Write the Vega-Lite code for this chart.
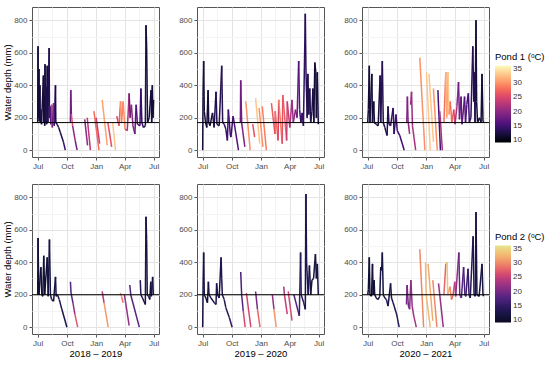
{
"$schema":"https://vega.github.io/schema/vega-lite/v6.json",
"padding":{"left":2,"top":6,"right":0,"bottom":0},
"config":{"font":"Liberation Sans","view":{"stroke":"#555555","strokeWidth":1},
"axis":{"domain":false,"tickSize":3,"tickWidth":1,"tickCount":20,"labelFontSize":8,"labelColor":"#4d4d4d","labelPadding":2,"labelOverlap":false,"labelFlush":false,"titleFontSize":9.5,"titleFontWeight":"normal","titleColor":"#000000","titlePadding":1},
"legend":{"orient":"none","gradientLength":77,"gradientThickness":16,"titleFontSize":9.5,"titleFontWeight":"normal","titleColor":"#000000","labelFontSize":8,"labelColor":"#333333","titlePadding":4,"labelOffset":3,"gradientStrokeWidth":0}},
"data":{"values":[
{"pond":1,"yr":2018,"g":1,"d":"2018-07-01","v":170,"t":12},
{"pond":1,"yr":2018,"g":1,"d":"2018-07-02","v":640,"t":12},
{"pond":1,"yr":2018,"g":1,"d":"2018-07-03","v":200,"t":12},
{"pond":1,"yr":2018,"g":1,"d":"2018-07-05","v":500,"t":12},
{"pond":1,"yr":2018,"g":1,"d":"2018-07-06","v":180,"t":12},
{"pond":1,"yr":2018,"g":1,"d":"2018-07-08","v":400,"t":12},
{"pond":1,"yr":2018,"g":1,"d":"2018-07-09","v":170,"t":12},
{"pond":1,"yr":2018,"g":1,"d":"2018-07-11","v":250,"t":13},
{"pond":1,"yr":2018,"g":1,"d":"2018-07-13","v":160,"t":12},
{"pond":1,"yr":2018,"g":1,"d":"2018-07-19","v":460,"t":12},
{"pond":1,"yr":2018,"g":1,"d":"2018-07-20","v":170,"t":12},
{"pond":1,"yr":2018,"g":1,"d":"2018-07-22","v":340,"t":13},
{"pond":1,"yr":2018,"g":1,"d":"2018-07-23","v":150,"t":12},
{"pond":1,"yr":2018,"g":1,"d":"2018-07-24","v":530,"t":12},
{"pond":1,"yr":2018,"g":1,"d":"2018-07-26","v":170,"t":13},
{"pond":1,"yr":2018,"g":1,"d":"2018-07-28","v":390,"t":13},
{"pond":1,"yr":2018,"g":1,"d":"2018-07-29","v":160,"t":13},
{"pond":1,"yr":2018,"g":1,"d":"2018-07-31","v":520,"t":12},
{"pond":1,"yr":2018,"g":1,"d":"2018-08-02","v":170,"t":13},
{"pond":1,"yr":2018,"g":1,"d":"2018-08-06","v":630,"t":13},
{"pond":1,"yr":2018,"g":1,"d":"2018-08-07","v":200,"t":15},
{"pond":1,"yr":2018,"g":1,"d":"2018-08-09","v":270,"t":17},
{"pond":1,"yr":2018,"g":1,"d":"2018-08-11","v":160,"t":16},
{"pond":1,"yr":2018,"g":1,"d":"2018-08-14","v":280,"t":24},
{"pond":1,"yr":2018,"g":1,"d":"2018-08-16","v":140,"t":18},
{"pond":1,"yr":2018,"g":1,"d":"2018-08-20","v":290,"t":20},
{"pond":1,"yr":2018,"g":1,"d":"2018-08-22","v":150,"t":15},
{"pond":1,"yr":2018,"g":1,"d":"2018-08-26","v":400,"t":12},
{"pond":1,"yr":2018,"g":1,"d":"2018-08-27","v":170,"t":12},
{"pond":1,"yr":2018,"g":1,"d":"2018-08-31","v":160,"t":13},
{"pond":1,"yr":2018,"g":1,"d":"2018-09-05","v":140,"t":13},
{"pond":1,"yr":2018,"g":1,"d":"2018-09-10","v":110,"t":13},
{"pond":1,"yr":2018,"g":1,"d":"2018-09-20","v":50,"t":14},
{"pond":1,"yr":2018,"g":1,"d":"2018-09-26","v":0,"t":14},
{"pond":1,"yr":2018,"g":2,"d":"2018-10-12","v":170,"t":18},
{"pond":1,"yr":2018,"g":2,"d":"2018-10-13","v":370,"t":18},
{"pond":1,"yr":2018,"g":2,"d":"2018-10-15","v":220,"t":26},
{"pond":1,"yr":2018,"g":2,"d":"2018-10-19","v":150,"t":20},
{"pond":1,"yr":2018,"g":2,"d":"2018-10-27","v":60,"t":18},
{"pond":1,"yr":2018,"g":2,"d":"2018-11-02","v":0,"t":18},
{"pond":1,"yr":2018,"g":3,"d":"2018-11-26","v":190,"t":20},
{"pond":1,"yr":2018,"g":3,"d":"2018-12-05","v":30,"t":21},
{"pond":1,"yr":2018,"g":4,"d":"2018-12-04","v":200,"t":23},
{"pond":1,"yr":2018,"g":4,"d":"2018-12-14","v":0,"t":22},
{"pond":1,"yr":2018,"g":5,"d":"2018-12-25","v":240,"t":28},
{"pond":1,"yr":2018,"g":5,"d":"2019-01-10","v":0,"t":29},
{"pond":1,"yr":2018,"g":6,"d":"2019-01-01","v":200,"t":24},
{"pond":1,"yr":2018,"g":6,"d":"2019-01-12","v":40,"t":25},
{"pond":1,"yr":2018,"g":7,"d":"2019-01-20","v":310,"t":31},
{"pond":1,"yr":2018,"g":7,"d":"2019-02-05","v":30,"t":31},
{"pond":1,"yr":2018,"g":8,"d":"2019-02-07","v":170,"t":26},
{"pond":1,"yr":2018,"g":8,"d":"2019-02-19","v":20,"t":27},
{"pond":1,"yr":2018,"g":9,"d":"2019-02-22","v":170,"t":33},
{"pond":1,"yr":2018,"g":9,"d":"2019-03-03","v":0,"t":33},
{"pond":1,"yr":2018,"g":10,"d":"2019-03-07","v":210,"t":25},
{"pond":1,"yr":2018,"g":10,"d":"2019-03-14","v":150,"t":27},
{"pond":1,"yr":2018,"g":10,"d":"2019-03-19","v":300,"t":30},
{"pond":1,"yr":2018,"g":10,"d":"2019-03-22","v":170,"t":29},
{"pond":1,"yr":2018,"g":10,"d":"2019-03-27","v":300,"t":30},
{"pond":1,"yr":2018,"g":10,"d":"2019-04-02","v":130,"t":25},
{"pond":1,"yr":2018,"g":10,"d":"2019-04-09","v":120,"t":22},
{"pond":1,"yr":2018,"g":10,"d":"2019-04-15","v":350,"t":18},
{"pond":1,"yr":2018,"g":10,"d":"2019-04-18","v":200,"t":18},
{"pond":1,"yr":2018,"g":10,"d":"2019-04-22","v":280,"t":20},
{"pond":1,"yr":2018,"g":10,"d":"2019-04-27","v":150,"t":19},
{"pond":1,"yr":2018,"g":10,"d":"2019-05-03","v":100,"t":17},
{"pond":1,"yr":2018,"g":10,"d":"2019-05-07","v":280,"t":16},
{"pond":1,"yr":2018,"g":10,"d":"2019-05-11","v":160,"t":16},
{"pond":1,"yr":2018,"g":10,"d":"2019-05-19","v":150,"t":15},
{"pond":1,"yr":2018,"g":10,"d":"2019-05-22","v":380,"t":14},
{"pond":1,"yr":2018,"g":10,"d":"2019-05-25","v":170,"t":14},
{"pond":1,"yr":2018,"g":10,"d":"2019-05-30","v":140,"t":13},
{"pond":1,"yr":2018,"g":10,"d":"2019-06-05","v":150,"t":13},
{"pond":1,"yr":2018,"g":10,"d":"2019-06-07","v":770,"t":12},
{"pond":1,"yr":2018,"g":10,"d":"2019-06-09","v":640,"t":12},
{"pond":1,"yr":2018,"g":10,"d":"2019-06-12","v":170,"t":12},
{"pond":1,"yr":2018,"g":10,"d":"2019-06-17","v":200,"t":12},
{"pond":1,"yr":2018,"g":10,"d":"2019-06-23","v":370,"t":12},
{"pond":1,"yr":2018,"g":10,"d":"2019-06-25","v":170,"t":12},
{"pond":1,"yr":2018,"g":10,"d":"2019-06-27","v":400,"t":12},
{"pond":1,"yr":2018,"g":10,"d":"2019-06-29","v":200,"t":12},
{"pond":1,"yr":2018,"g":10,"d":"2019-07-01","v":310,"t":12},
{"pond":1,"yr":2019,"g":1,"d":"2019-07-01","v":0,"t":12},
{"pond":1,"yr":2019,"g":1,"d":"2019-07-02","v":330,"t":12},
{"pond":1,"yr":2019,"g":1,"d":"2019-07-04","v":550,"t":12},
{"pond":1,"yr":2019,"g":1,"d":"2019-07-06","v":240,"t":12},
{"pond":1,"yr":2019,"g":1,"d":"2019-07-10","v":170,"t":12},
{"pond":1,"yr":2019,"g":1,"d":"2019-07-14","v":140,"t":12},
{"pond":1,"yr":2019,"g":1,"d":"2019-07-18","v":370,"t":12},
{"pond":1,"yr":2019,"g":1,"d":"2019-07-20","v":170,"t":12},
{"pond":1,"yr":2019,"g":1,"d":"2019-07-24","v":150,"t":12},
{"pond":1,"yr":2019,"g":1,"d":"2019-08-01","v":230,"t":13},
{"pond":1,"yr":2019,"g":1,"d":"2019-08-06","v":140,"t":13},
{"pond":1,"yr":2019,"g":1,"d":"2019-08-12","v":360,"t":13},
{"pond":1,"yr":2019,"g":1,"d":"2019-08-15","v":160,"t":13},
{"pond":1,"yr":2019,"g":1,"d":"2019-08-22","v":150,"t":13},
{"pond":1,"yr":2019,"g":1,"d":"2019-08-30","v":520,"t":13},
{"pond":1,"yr":2019,"g":1,"d":"2019-09-02","v":170,"t":14},
{"pond":1,"yr":2019,"g":1,"d":"2019-09-07","v":160,"t":14},
{"pond":1,"yr":2019,"g":1,"d":"2019-09-12","v":130,"t":14},
{"pond":1,"yr":2019,"g":1,"d":"2019-09-17","v":60,"t":15},
{"pond":1,"yr":2019,"g":1,"d":"2019-09-20","v":250,"t":15},
{"pond":1,"yr":2019,"g":1,"d":"2019-09-26","v":100,"t":15},
{"pond":1,"yr":2019,"g":1,"d":"2019-09-28","v":80,"t":15},
{"pond":1,"yr":2019,"g":1,"d":"2019-10-05","v":210,"t":16},
{"pond":1,"yr":2019,"g":1,"d":"2019-10-22","v":0,"t":16},
{"pond":1,"yr":2019,"g":2,"d":"2019-10-28","v":170,"t":18},
{"pond":1,"yr":2019,"g":2,"d":"2019-10-29","v":430,"t":18},
{"pond":1,"yr":2019,"g":2,"d":"2019-11-01","v":170,"t":19},
{"pond":1,"yr":2019,"g":2,"d":"2019-11-11","v":20,"t":19},
{"pond":1,"yr":2019,"g":3,"d":"2019-11-14","v":300,"t":30},
{"pond":1,"yr":2019,"g":3,"d":"2019-11-28","v":0,"t":30},
{"pond":1,"yr":2019,"g":4,"d":"2019-12-06","v":160,"t":26},
{"pond":1,"yr":2019,"g":4,"d":"2019-12-12","v":80,"t":26},
{"pond":1,"yr":2019,"g":5,"d":"2019-12-15","v":320,"t":33},
{"pond":1,"yr":2019,"g":5,"d":"2019-12-28","v":40,"t":33},
{"pond":1,"yr":2019,"g":6,"d":"2019-12-26","v":260,"t":30},
{"pond":1,"yr":2019,"g":6,"d":"2020-01-07","v":20,"t":30},
{"pond":1,"yr":2019,"g":7,"d":"2020-01-05","v":270,"t":29},
{"pond":1,"yr":2019,"g":7,"d":"2020-01-18","v":0,"t":29},
{"pond":1,"yr":2019,"g":8,"d":"2020-02-03","v":290,"t":27},
{"pond":1,"yr":2019,"g":8,"d":"2020-02-14","v":100,"t":26},
{"pond":1,"yr":2019,"g":8,"d":"2020-02-15","v":240,"t":28},
{"pond":1,"yr":2019,"g":8,"d":"2020-02-24","v":60,"t":25},
{"pond":1,"yr":2019,"g":8,"d":"2020-02-26","v":310,"t":29},
{"pond":1,"yr":2019,"g":8,"d":"2020-03-08","v":40,"t":26},
{"pond":1,"yr":2019,"g":8,"d":"2020-03-10","v":340,"t":27},
{"pond":1,"yr":2019,"g":8,"d":"2020-03-22","v":60,"t":24},
{"pond":1,"yr":2019,"g":8,"d":"2020-03-24","v":300,"t":24},
{"pond":1,"yr":2019,"g":8,"d":"2020-04-01","v":140,"t":22},
{"pond":1,"yr":2019,"g":8,"d":"2020-04-08","v":310,"t":21},
{"pond":1,"yr":2019,"g":8,"d":"2020-04-12","v":170,"t":20},
{"pond":1,"yr":2019,"g":8,"d":"2020-04-19","v":250,"t":19},
{"pond":1,"yr":2019,"g":8,"d":"2020-04-24","v":200,"t":18},
{"pond":1,"yr":2019,"g":8,"d":"2020-04-29","v":550,"t":16},
{"pond":1,"yr":2019,"g":8,"d":"2020-05-02","v":250,"t":15},
{"pond":1,"yr":2019,"g":8,"d":"2020-05-06","v":170,"t":14},
{"pond":1,"yr":2019,"g":8,"d":"2020-05-10","v":230,"t":14},
{"pond":1,"yr":2019,"g":8,"d":"2020-05-14","v":150,"t":14},
{"pond":1,"yr":2019,"g":8,"d":"2020-05-20","v":840,"t":13},
{"pond":1,"yr":2019,"g":8,"d":"2020-05-22","v":490,"t":13},
{"pond":1,"yr":2019,"g":8,"d":"2020-05-26","v":200,"t":13},
{"pond":1,"yr":2019,"g":8,"d":"2020-05-28","v":470,"t":13},
{"pond":1,"yr":2019,"g":8,"d":"2020-05-31","v":220,"t":13},
{"pond":1,"yr":2019,"g":8,"d":"2020-06-03","v":380,"t":13},
{"pond":1,"yr":2019,"g":8,"d":"2020-06-06","v":170,"t":13},
{"pond":1,"yr":2019,"g":8,"d":"2020-06-10","v":240,"t":13},
{"pond":1,"yr":2019,"g":8,"d":"2020-06-13","v":380,"t":12},
{"pond":1,"yr":2019,"g":8,"d":"2020-06-16","v":170,"t":12},
{"pond":1,"yr":2019,"g":8,"d":"2020-06-19","v":540,"t":12},
{"pond":1,"yr":2019,"g":8,"d":"2020-06-22","v":480,"t":12},
{"pond":1,"yr":2019,"g":8,"d":"2020-06-24","v":200,"t":12},
{"pond":1,"yr":2019,"g":8,"d":"2020-06-27","v":480,"t":12},
{"pond":1,"yr":2019,"g":8,"d":"2020-06-30","v":160,"t":12},
{"pond":1,"yr":2020,"g":1,"d":"2020-07-01","v":170,"t":12},
{"pond":1,"yr":2020,"g":1,"d":"2020-07-03","v":250,"t":12},
{"pond":1,"yr":2020,"g":1,"d":"2020-07-06","v":520,"t":12},
{"pond":1,"yr":2020,"g":1,"d":"2020-07-08","v":170,"t":12},
{"pond":1,"yr":2020,"g":1,"d":"2020-07-14","v":470,"t":12},
{"pond":1,"yr":2020,"g":1,"d":"2020-07-16","v":170,"t":12},
{"pond":1,"yr":2020,"g":1,"d":"2020-07-20","v":300,"t":12},
{"pond":1,"yr":2020,"g":1,"d":"2020-07-22","v":170,"t":12},
{"pond":1,"yr":2020,"g":1,"d":"2020-07-28","v":160,"t":12},
{"pond":1,"yr":2020,"g":1,"d":"2020-08-03","v":150,"t":12},
{"pond":1,"yr":2020,"g":1,"d":"2020-08-09","v":460,"t":13},
{"pond":1,"yr":2020,"g":1,"d":"2020-08-11","v":170,"t":13},
{"pond":1,"yr":2020,"g":1,"d":"2020-08-16","v":550,"t":13},
{"pond":1,"yr":2020,"g":1,"d":"2020-08-19","v":170,"t":13},
{"pond":1,"yr":2020,"g":1,"d":"2020-08-24","v":140,"t":13},
{"pond":1,"yr":2020,"g":1,"d":"2020-08-31","v":90,"t":13},
{"pond":1,"yr":2020,"g":1,"d":"2020-09-03","v":270,"t":13},
{"pond":1,"yr":2020,"g":1,"d":"2020-09-06","v":160,"t":14},
{"pond":1,"yr":2020,"g":1,"d":"2020-09-11","v":150,"t":14},
{"pond":1,"yr":2020,"g":1,"d":"2020-09-19","v":260,"t":14},
{"pond":1,"yr":2020,"g":1,"d":"2020-09-22","v":100,"t":14},
{"pond":1,"yr":2020,"g":1,"d":"2020-09-28","v":220,"t":15},
{"pond":1,"yr":2020,"g":1,"d":"2020-10-02","v":120,"t":15},
{"pond":1,"yr":2020,"g":1,"d":"2020-10-10","v":90,"t":15},
{"pond":1,"yr":2020,"g":1,"d":"2020-10-24","v":0,"t":15},
{"pond":1,"yr":2020,"g":2,"d":"2020-11-01","v":170,"t":19},
{"pond":1,"yr":2020,"g":2,"d":"2020-11-03","v":330,"t":19},
{"pond":1,"yr":2020,"g":2,"d":"2020-11-05","v":180,"t":20},
{"pond":1,"yr":2020,"g":2,"d":"2020-11-10","v":100,"t":20},
{"pond":1,"yr":2020,"g":3,"d":"2020-11-13","v":280,"t":21},
{"pond":1,"yr":2020,"g":3,"d":"2020-11-16","v":360,"t":21},
{"pond":1,"yr":2020,"g":3,"d":"2020-11-19","v":150,"t":22},
{"pond":1,"yr":2020,"g":3,"d":"2020-11-29","v":0,"t":22},
{"pond":1,"yr":2020,"g":4,"d":"2020-12-12","v":570,"t":30},
{"pond":1,"yr":2020,"g":4,"d":"2020-12-28","v":0,"t":30},
{"pond":1,"yr":2020,"g":5,"d":"2021-01-02","v":480,"t":33},
{"pond":1,"yr":2020,"g":5,"d":"2021-01-14","v":0,"t":33},
{"pond":1,"yr":2020,"g":6,"d":"2021-01-10","v":470,"t":33},
{"pond":1,"yr":2020,"g":6,"d":"2021-01-24","v":50,"t":32},
{"pond":1,"yr":2020,"g":7,"d":"2021-01-24","v":380,"t":30},
{"pond":1,"yr":2020,"g":7,"d":"2021-02-05","v":0,"t":30},
{"pond":1,"yr":2020,"g":8,"d":"2021-02-07","v":370,"t":15},
{"pond":1,"yr":2020,"g":8,"d":"2021-02-15","v":0,"t":15},
{"pond":1,"yr":2020,"g":9,"d":"2021-02-13","v":240,"t":22},
{"pond":1,"yr":2020,"g":9,"d":"2021-02-21","v":0,"t":22},
{"pond":1,"yr":2020,"g":10,"d":"2021-02-26","v":170,"t":28},
{"pond":1,"yr":2020,"g":10,"d":"2021-03-04","v":480,"t":32},
{"pond":1,"yr":2020,"g":10,"d":"2021-03-07","v":200,"t":31},
{"pond":1,"yr":2020,"g":10,"d":"2021-03-11","v":480,"t":33},
{"pond":1,"yr":2020,"g":10,"d":"2021-03-14","v":220,"t":30},
{"pond":1,"yr":2020,"g":10,"d":"2021-03-18","v":300,"t":28},
{"pond":1,"yr":2020,"g":10,"d":"2021-03-23","v":170,"t":27},
{"pond":1,"yr":2020,"g":10,"d":"2021-03-29","v":250,"t":25},
{"pond":1,"yr":2020,"g":10,"d":"2021-04-02","v":160,"t":22},
{"pond":1,"yr":2020,"g":10,"d":"2021-04-08","v":270,"t":20},
{"pond":1,"yr":2020,"g":10,"d":"2021-04-13","v":420,"t":18},
{"pond":1,"yr":2020,"g":10,"d":"2021-04-16","v":190,"t":18},
{"pond":1,"yr":2020,"g":10,"d":"2021-04-21","v":330,"t":17},
{"pond":1,"yr":2020,"g":10,"d":"2021-04-24","v":160,"t":17},
{"pond":1,"yr":2020,"g":10,"d":"2021-04-29","v":260,"t":17},
{"pond":1,"yr":2020,"g":10,"d":"2021-05-02","v":330,"t":16},
{"pond":1,"yr":2020,"g":10,"d":"2021-05-05","v":170,"t":16},
{"pond":1,"yr":2020,"g":10,"d":"2021-05-09","v":280,"t":15},
{"pond":1,"yr":2020,"g":10,"d":"2021-05-14","v":350,"t":15},
{"pond":1,"yr":2020,"g":10,"d":"2021-05-17","v":170,"t":14},
{"pond":1,"yr":2020,"g":10,"d":"2021-05-22","v":200,"t":14},
{"pond":1,"yr":2020,"g":10,"d":"2021-05-28","v":640,"t":13},
{"pond":1,"yr":2020,"g":10,"d":"2021-05-31","v":300,"t":13},
{"pond":1,"yr":2020,"g":10,"d":"2021-06-02","v":480,"t":13},
{"pond":1,"yr":2020,"g":10,"d":"2021-06-04","v":170,"t":13},
{"pond":1,"yr":2020,"g":10,"d":"2021-06-07","v":800,"t":12},
{"pond":1,"yr":2020,"g":10,"d":"2021-06-09","v":300,"t":12},
{"pond":1,"yr":2020,"g":10,"d":"2021-06-12","v":170,"t":12},
{"pond":1,"yr":2020,"g":10,"d":"2021-06-18","v":200,"t":12},
{"pond":1,"yr":2020,"g":10,"d":"2021-06-23","v":170,"t":12},
{"pond":1,"yr":2020,"g":10,"d":"2021-06-26","v":470,"t":12},
{"pond":1,"yr":2020,"g":10,"d":"2021-06-29","v":180,"t":12},
{"pond":1,"yr":2020,"g":10,"d":"2021-07-01","v":170,"t":12},
{"pond":2,"yr":2018,"g":1,"d":"2018-07-01","v":200,"t":11},
{"pond":2,"yr":2018,"g":1,"d":"2018-07-02","v":550,"t":11},
{"pond":2,"yr":2018,"g":1,"d":"2018-07-03","v":400,"t":11},
{"pond":2,"yr":2018,"g":1,"d":"2018-07-05","v":200,"t":11},
{"pond":2,"yr":2018,"g":1,"d":"2018-07-11","v":370,"t":11},
{"pond":2,"yr":2018,"g":1,"d":"2018-07-14","v":200,"t":11},
{"pond":2,"yr":2018,"g":1,"d":"2018-07-17","v":190,"t":11},
{"pond":2,"yr":2018,"g":1,"d":"2018-07-20","v":440,"t":11},
{"pond":2,"yr":2018,"g":1,"d":"2018-07-23","v":200,"t":11},
{"pond":2,"yr":2018,"g":1,"d":"2018-07-31","v":430,"t":12},
{"pond":2,"yr":2018,"g":1,"d":"2018-08-03","v":190,"t":12},
{"pond":2,"yr":2018,"g":1,"d":"2018-08-07","v":540,"t":12},
{"pond":2,"yr":2018,"g":1,"d":"2018-08-10","v":200,"t":12},
{"pond":2,"yr":2018,"g":1,"d":"2018-08-14","v":170,"t":12},
{"pond":2,"yr":2018,"g":1,"d":"2018-08-20","v":160,"t":12},
{"pond":2,"yr":2018,"g":1,"d":"2018-08-26","v":310,"t":12},
{"pond":2,"yr":2018,"g":1,"d":"2018-08-28","v":190,"t":13},
{"pond":2,"yr":2018,"g":1,"d":"2018-09-01","v":200,"t":13},
{"pond":2,"yr":2018,"g":1,"d":"2018-09-07","v":170,"t":13},
{"pond":2,"yr":2018,"g":1,"d":"2018-09-15","v":110,"t":13},
{"pond":2,"yr":2018,"g":1,"d":"2018-10-01","v":0,"t":13},
{"pond":2,"yr":2018,"g":2,"d":"2018-10-12","v":280,"t":18},
{"pond":2,"yr":2018,"g":2,"d":"2018-10-14","v":210,"t":18},
{"pond":2,"yr":2018,"g":2,"d":"2018-10-20","v":150,"t":22},
{"pond":2,"yr":2018,"g":2,"d":"2018-10-26","v":80,"t":27},
{"pond":2,"yr":2018,"g":2,"d":"2018-11-04","v":0,"t":27},
{"pond":2,"yr":2018,"g":3,"d":"2019-01-20","v":220,"t":24},
{"pond":2,"yr":2018,"g":3,"d":"2019-01-26","v":150,"t":31},
{"pond":2,"yr":2018,"g":3,"d":"2019-02-08","v":0,"t":32},
{"pond":2,"yr":2018,"g":4,"d":"2019-03-18","v":210,"t":30},
{"pond":2,"yr":2018,"g":4,"d":"2019-03-22","v":190,"t":29},
{"pond":2,"yr":2018,"g":4,"d":"2019-03-27","v":150,"t":28},
{"pond":2,"yr":2018,"g":5,"d":"2019-03-31","v":200,"t":22},
{"pond":2,"yr":2018,"g":5,"d":"2019-04-15","v":10,"t":18},
{"pond":2,"yr":2018,"g":6,"d":"2019-04-17","v":260,"t":18},
{"pond":2,"yr":2018,"g":6,"d":"2019-04-20","v":200,"t":18},
{"pond":2,"yr":2018,"g":6,"d":"2019-05-17","v":0,"t":16},
{"pond":2,"yr":2018,"g":7,"d":"2019-05-20","v":290,"t":14},
{"pond":2,"yr":2018,"g":7,"d":"2019-05-22","v":200,"t":13},
{"pond":2,"yr":2018,"g":7,"d":"2019-05-27","v":180,"t":13},
{"pond":2,"yr":2018,"g":7,"d":"2019-06-05","v":140,"t":13},
{"pond":2,"yr":2018,"g":7,"d":"2019-06-07","v":680,"t":12},
{"pond":2,"yr":2018,"g":7,"d":"2019-06-09","v":540,"t":12},
{"pond":2,"yr":2018,"g":7,"d":"2019-06-11","v":200,"t":12},
{"pond":2,"yr":2018,"g":7,"d":"2019-06-15","v":190,"t":12},
{"pond":2,"yr":2018,"g":7,"d":"2019-06-19","v":170,"t":12},
{"pond":2,"yr":2018,"g":7,"d":"2019-06-22","v":280,"t":12},
{"pond":2,"yr":2018,"g":7,"d":"2019-06-24","v":190,"t":12},
{"pond":2,"yr":2018,"g":7,"d":"2019-06-28","v":310,"t":12},
{"pond":2,"yr":2018,"g":7,"d":"2019-06-30","v":200,"t":12},
{"pond":2,"yr":2019,"g":1,"d":"2019-07-01","v":0,"t":12},
{"pond":2,"yr":2019,"g":1,"d":"2019-07-02","v":230,"t":12},
{"pond":2,"yr":2019,"g":1,"d":"2019-07-04","v":460,"t":12},
{"pond":2,"yr":2019,"g":1,"d":"2019-07-06","v":200,"t":12},
{"pond":2,"yr":2019,"g":1,"d":"2019-07-11","v":180,"t":12},
{"pond":2,"yr":2019,"g":1,"d":"2019-07-16","v":150,"t":12},
{"pond":2,"yr":2019,"g":1,"d":"2019-07-19","v":280,"t":12},
{"pond":2,"yr":2019,"g":1,"d":"2019-07-21","v":200,"t":12},
{"pond":2,"yr":2019,"g":1,"d":"2019-07-27","v":180,"t":12},
{"pond":2,"yr":2019,"g":1,"d":"2019-08-07","v":150,"t":13},
{"pond":2,"yr":2019,"g":1,"d":"2019-08-12","v":140,"t":13},
{"pond":2,"yr":2019,"g":1,"d":"2019-08-14","v":270,"t":13},
{"pond":2,"yr":2019,"g":1,"d":"2019-08-17","v":200,"t":13},
{"pond":2,"yr":2019,"g":1,"d":"2019-08-22","v":180,"t":13},
{"pond":2,"yr":2019,"g":1,"d":"2019-08-28","v":430,"t":13},
{"pond":2,"yr":2019,"g":1,"d":"2019-08-30","v":300,"t":13},
{"pond":2,"yr":2019,"g":1,"d":"2019-09-01","v":200,"t":14},
{"pond":2,"yr":2019,"g":1,"d":"2019-09-07","v":170,"t":14},
{"pond":2,"yr":2019,"g":1,"d":"2019-09-12","v":120,"t":14},
{"pond":2,"yr":2019,"g":1,"d":"2019-09-23","v":60,"t":15},
{"pond":2,"yr":2019,"g":1,"d":"2019-10-02","v":0,"t":15},
{"pond":2,"yr":2019,"g":2,"d":"2019-10-29","v":340,"t":17},
{"pond":2,"yr":2019,"g":2,"d":"2019-11-01","v":200,"t":18},
{"pond":2,"yr":2019,"g":2,"d":"2019-11-06","v":100,"t":26},
{"pond":2,"yr":2019,"g":2,"d":"2019-11-12","v":0,"t":26},
{"pond":2,"yr":2019,"g":3,"d":"2019-11-16","v":210,"t":26},
{"pond":2,"yr":2019,"g":3,"d":"2019-11-30","v":0,"t":28},
{"pond":2,"yr":2019,"g":4,"d":"2019-12-15","v":220,"t":20},
{"pond":2,"yr":2019,"g":4,"d":"2019-12-21","v":110,"t":28},
{"pond":2,"yr":2019,"g":4,"d":"2019-12-29","v":0,"t":28},
{"pond":2,"yr":2019,"g":5,"d":"2020-02-06","v":200,"t":22},
{"pond":2,"yr":2019,"g":5,"d":"2020-02-11","v":110,"t":31},
{"pond":2,"yr":2019,"g":5,"d":"2020-02-18","v":0,"t":31},
{"pond":2,"yr":2019,"g":6,"d":"2020-03-13","v":250,"t":23},
{"pond":2,"yr":2019,"g":6,"d":"2020-03-15","v":200,"t":25},
{"pond":2,"yr":2019,"g":6,"d":"2020-03-24","v":80,"t":28},
{"pond":2,"yr":2019,"g":7,"d":"2020-03-27","v":220,"t":26},
{"pond":2,"yr":2019,"g":7,"d":"2020-04-08","v":40,"t":24},
{"pond":2,"yr":2019,"g":8,"d":"2020-04-14","v":200,"t":18},
{"pond":2,"yr":2019,"g":8,"d":"2020-05-01","v":70,"t":16},
{"pond":2,"yr":2019,"g":8,"d":"2020-05-05","v":460,"t":14},
{"pond":2,"yr":2019,"g":8,"d":"2020-05-07","v":200,"t":14},
{"pond":2,"yr":2019,"g":8,"d":"2020-05-15","v":150,"t":13},
{"pond":2,"yr":2019,"g":8,"d":"2020-05-20","v":110,"t":13},
{"pond":2,"yr":2019,"g":8,"d":"2020-05-22","v":820,"t":13},
{"pond":2,"yr":2019,"g":8,"d":"2020-05-24","v":400,"t":13},
{"pond":2,"yr":2019,"g":8,"d":"2020-05-29","v":200,"t":13},
{"pond":2,"yr":2019,"g":8,"d":"2020-06-02","v":380,"t":12},
{"pond":2,"yr":2019,"g":8,"d":"2020-06-06","v":200,"t":12},
{"pond":2,"yr":2019,"g":8,"d":"2020-06-10","v":290,"t":12},
{"pond":2,"yr":2019,"g":8,"d":"2020-06-15","v":300,"t":12},
{"pond":2,"yr":2019,"g":8,"d":"2020-06-21","v":450,"t":12},
{"pond":2,"yr":2019,"g":8,"d":"2020-06-24","v":300,"t":12},
{"pond":2,"yr":2019,"g":8,"d":"2020-06-27","v":390,"t":12},
{"pond":2,"yr":2019,"g":8,"d":"2020-06-30","v":200,"t":12},
{"pond":2,"yr":2020,"g":1,"d":"2020-07-01","v":200,"t":11},
{"pond":2,"yr":2020,"g":1,"d":"2020-07-03","v":230,"t":11},
{"pond":2,"yr":2020,"g":1,"d":"2020-07-06","v":430,"t":11},
{"pond":2,"yr":2020,"g":1,"d":"2020-07-08","v":200,"t":11},
{"pond":2,"yr":2020,"g":1,"d":"2020-07-13","v":190,"t":11},
{"pond":2,"yr":2020,"g":1,"d":"2020-07-16","v":390,"t":11},
{"pond":2,"yr":2020,"g":1,"d":"2020-07-18","v":200,"t":11},
{"pond":2,"yr":2020,"g":1,"d":"2020-07-21","v":290,"t":11},
{"pond":2,"yr":2020,"g":1,"d":"2020-07-23","v":200,"t":11},
{"pond":2,"yr":2020,"g":1,"d":"2020-07-28","v":180,"t":12},
{"pond":2,"yr":2020,"g":1,"d":"2020-08-02","v":170,"t":12},
{"pond":2,"yr":2020,"g":1,"d":"2020-08-08","v":190,"t":12},
{"pond":2,"yr":2020,"g":1,"d":"2020-08-11","v":370,"t":12},
{"pond":2,"yr":2020,"g":1,"d":"2020-08-14","v":350,"t":12},
{"pond":2,"yr":2020,"g":1,"d":"2020-08-16","v":460,"t":12},
{"pond":2,"yr":2020,"g":1,"d":"2020-08-19","v":200,"t":12},
{"pond":2,"yr":2020,"g":1,"d":"2020-08-24","v":180,"t":12},
{"pond":2,"yr":2020,"g":1,"d":"2020-08-29","v":170,"t":13},
{"pond":2,"yr":2020,"g":1,"d":"2020-09-03","v":130,"t":13},
{"pond":2,"yr":2020,"g":1,"d":"2020-09-11","v":270,"t":13},
{"pond":2,"yr":2020,"g":1,"d":"2020-09-14","v":180,"t":13},
{"pond":2,"yr":2020,"g":1,"d":"2020-09-19","v":150,"t":14},
{"pond":2,"yr":2020,"g":1,"d":"2020-09-30","v":80,"t":14},
{"pond":2,"yr":2020,"g":1,"d":"2020-10-08","v":0,"t":14},
{"pond":2,"yr":2020,"g":2,"d":"2020-10-31","v":140,"t":20},
{"pond":2,"yr":2020,"g":2,"d":"2020-11-02","v":260,"t":20},
{"pond":2,"yr":2020,"g":2,"d":"2020-11-06","v":130,"t":21},
{"pond":2,"yr":2020,"g":2,"d":"2020-11-10","v":110,"t":21},
{"pond":2,"yr":2020,"g":2,"d":"2020-11-14","v":290,"t":22},
{"pond":2,"yr":2020,"g":2,"d":"2020-11-18","v":130,"t":22},
{"pond":2,"yr":2020,"g":2,"d":"2020-11-23","v":70,"t":23},
{"pond":2,"yr":2020,"g":2,"d":"2020-12-01","v":0,"t":23},
{"pond":2,"yr":2020,"g":3,"d":"2020-12-12","v":480,"t":30},
{"pond":2,"yr":2020,"g":3,"d":"2020-12-24","v":0,"t":31},
{"pond":2,"yr":2020,"g":4,"d":"2020-12-30","v":400,"t":33},
{"pond":2,"yr":2020,"g":4,"d":"2021-01-01","v":200,"t":33},
{"pond":2,"yr":2020,"g":4,"d":"2021-01-14","v":0,"t":33},
{"pond":2,"yr":2020,"g":5,"d":"2021-01-07","v":390,"t":32},
{"pond":2,"yr":2020,"g":5,"d":"2021-01-22","v":40,"t":31},
{"pond":2,"yr":2020,"g":6,"d":"2021-01-22","v":290,"t":30},
{"pond":2,"yr":2020,"g":6,"d":"2021-02-04","v":0,"t":30},
{"pond":2,"yr":2020,"g":7,"d":"2021-02-09","v":270,"t":22},
{"pond":2,"yr":2020,"g":7,"d":"2021-02-24","v":0,"t":22},
{"pond":2,"yr":2020,"g":8,"d":"2021-02-26","v":200,"t":28},
{"pond":2,"yr":2020,"g":8,"d":"2021-03-04","v":390,"t":33},
{"pond":2,"yr":2020,"g":8,"d":"2021-03-08","v":400,"t":34},
{"pond":2,"yr":2020,"g":8,"d":"2021-03-10","v":200,"t":32},
{"pond":2,"yr":2020,"g":8,"d":"2021-03-17","v":250,"t":30},
{"pond":2,"yr":2020,"g":8,"d":"2021-03-22","v":170,"t":28},
{"pond":2,"yr":2020,"g":8,"d":"2021-03-27","v":200,"t":26},
{"pond":2,"yr":2020,"g":8,"d":"2021-04-01","v":280,"t":24},
{"pond":2,"yr":2020,"g":8,"d":"2021-04-04","v":190,"t":22},
{"pond":2,"yr":2020,"g":8,"d":"2021-04-14","v":460,"t":19},
{"pond":2,"yr":2020,"g":8,"d":"2021-04-17","v":200,"t":19},
{"pond":2,"yr":2020,"g":8,"d":"2021-04-22","v":180,"t":18},
{"pond":2,"yr":2020,"g":8,"d":"2021-04-29","v":370,"t":17},
{"pond":2,"yr":2020,"g":8,"d":"2021-05-03","v":200,"t":17},
{"pond":2,"yr":2020,"g":8,"d":"2021-05-06","v":190,"t":16},
{"pond":2,"yr":2020,"g":8,"d":"2021-05-13","v":360,"t":15},
{"pond":2,"yr":2020,"g":8,"d":"2021-05-16","v":200,"t":15},
{"pond":2,"yr":2020,"g":8,"d":"2021-05-20","v":180,"t":14},
{"pond":2,"yr":2020,"g":8,"d":"2021-05-29","v":560,"t":13},
{"pond":2,"yr":2020,"g":8,"d":"2021-06-01","v":200,"t":13},
{"pond":2,"yr":2020,"g":8,"d":"2021-06-05","v":190,"t":13},
{"pond":2,"yr":2020,"g":8,"d":"2021-06-07","v":710,"t":12},
{"pond":2,"yr":2020,"g":8,"d":"2021-06-10","v":200,"t":12},
{"pond":2,"yr":2020,"g":8,"d":"2021-06-17","v":190,"t":12},
{"pond":2,"yr":2020,"g":8,"d":"2021-06-26","v":390,"t":12},
{"pond":2,"yr":2020,"g":8,"d":"2021-06-29","v":200,"t":12},
{"pond":2,"yr":2020,"g":8,"d":"2021-07-01","v":190,"t":12}
],"format":{"parse":{"d":"date"}}},
"transform":[{"window":[{"op":"lead","field":"d","as":"d2"},{"op":"lead","field":"v","as":"v2"}],"groupby":["pond","yr","g"],"sort":[{"field":"d"}]}],
"resolve":{"scale":{"color":"independent"}},
"spacing":12,
"vconcat":[
{"hconcat":[
{"width":127,"height":150,"layer":[
{"transform":[{"filter":"datum.pond==1 && datum.yr==2018 && datum.d2 != null"}],"mark":{"type":"rule","strokeWidth":1.5},
"encoding":{
"x":{"field":"d","type":"temporal","scale":{"type":"utc","domain":[{"year":2018,"month":6,"date":13,"utc":true},{"year":2019,"month":7,"date":18,"utc":true}]},
"axis":{"title":null,"labelOverlap":false,"tickCount":20,"values":[{"year":2018,"month":7,"date":1,"utc":true},{"year":2018,"month":8,"date":16,"utc":true},{"year":2018,"month":10,"date":1,"utc":true},{"year":2018,"month":11,"date":15,"utc":true},{"year":2019,"month":1,"date":1,"utc":true},{"year":2019,"month":2,"date":15,"utc":true},{"year":2019,"month":4,"date":1,"utc":true},{"year":2019,"month":5,"date":16,"utc":true},{"year":2019,"month":7,"date":1,"utc":true}],
"labelExpr":"utcdate(datum.value) == 1 ? utcFormat(datum.value, '%b') : ''","tickColor":{"condition":{"test":"utcdate(datum.value) != 1","value":"transparent"},"value":"#555555"},"gridColor":{"condition":{"test":"utcdate(datum.value) != 1","value":"#f4f4f4"},"value":"#e4e4e4"}}},
"x2":{"field":"d2"},
"y":{"field":"v","type":"quantitative","scale":{"domain":[-42,882],"nice":false,"zero":false},
"axis":{"title":"Water depth (mm)","labelOverlap":false,"tickCount":20,"values":[0,100,200,300,400,500,600,700,800],"labelColor":{"condition":{"test":"datum.value % 200 != 0","value":"transparent"},"value":"#4d4d4d"},"tickColor":{"condition":{"test":"datum.value % 200 != 0","value":"transparent"},"value":"#555555"},"gridColor":{"condition":{"test":"datum.value % 200 != 0","value":"#f4f4f4"},"value":"#e4e4e4"}}},
"y2":{"field":"v2"},
"color":{"field":"t","type":"quantitative","scale":{"domain":[9.2,36.2],"scheme":"magma"},"legend":{"title":"Pond 1 (ᵒC)","values":[10,15,20,25,30,35],"legendX":463,"legendY":45}}}},
{"data":{"values":[{"h":170}]},"mark":{"type":"rule","color":"#000000","strokeWidth":1},"encoding":{"y":{"field":"h","type":"quantitative"}}}]},
{"width":127,"height":150,"layer":[
{"transform":[{"filter":"datum.pond==1 && datum.yr==2019 && datum.d2 != null"}],"mark":{"type":"rule","strokeWidth":1.5},
"encoding":{
"x":{"field":"d","type":"temporal","scale":{"type":"utc","domain":[{"year":2019,"month":6,"date":13,"utc":true},{"year":2020,"month":7,"date":18,"utc":true}]},
"axis":{"title":null,"labelOverlap":false,"tickCount":20,"values":[{"year":2019,"month":7,"date":1,"utc":true},{"year":2019,"month":8,"date":16,"utc":true},{"year":2019,"month":10,"date":1,"utc":true},{"year":2019,"month":11,"date":15,"utc":true},{"year":2020,"month":1,"date":1,"utc":true},{"year":2020,"month":2,"date":15,"utc":true},{"year":2020,"month":4,"date":1,"utc":true},{"year":2020,"month":5,"date":16,"utc":true},{"year":2020,"month":7,"date":1,"utc":true}],
"labelExpr":"utcdate(datum.value) == 1 ? utcFormat(datum.value, '%b') : ''","tickColor":{"condition":{"test":"utcdate(datum.value) != 1","value":"transparent"},"value":"#555555"},"gridColor":{"condition":{"test":"utcdate(datum.value) != 1","value":"#f4f4f4"},"value":"#e4e4e4"}}},
"x2":{"field":"d2"},
"y":{"field":"v","type":"quantitative","scale":{"domain":[-42,882],"nice":false,"zero":false},
"axis":{"title":null,"labelOverlap":false,"tickCount":20,"values":[0,100,200,300,400,500,600,700,800],"labelColor":{"condition":{"test":"datum.value % 200 != 0","value":"transparent"},"value":"#4d4d4d"},"tickColor":{"condition":{"test":"datum.value % 200 != 0","value":"transparent"},"value":"#555555"},"gridColor":{"condition":{"test":"datum.value % 200 != 0","value":"#f4f4f4"},"value":"#e4e4e4"}}},
"y2":{"field":"v2"},
"color":{"field":"t","type":"quantitative","scale":{"domain":[9.2,36.2],"scheme":"magma"},"legend":{"title":"Pond 1 (ᵒC)","values":[10,15,20,25,30,35],"legendX":463,"legendY":45}}}},
{"data":{"values":[{"h":170}]},"mark":{"type":"rule","color":"#000000","strokeWidth":1},"encoding":{"y":{"field":"h","type":"quantitative"}}}]},
{"width":127,"height":150,"layer":[
{"transform":[{"filter":"datum.pond==1 && datum.yr==2020 && datum.d2 != null"}],"mark":{"type":"rule","strokeWidth":1.5},
"encoding":{
"x":{"field":"d","type":"temporal","scale":{"type":"utc","domain":[{"year":2020,"month":6,"date":13,"utc":true},{"year":2021,"month":7,"date":18,"utc":true}]},
"axis":{"title":null,"labelOverlap":false,"tickCount":20,"values":[{"year":2020,"month":7,"date":1,"utc":true},{"year":2020,"month":8,"date":16,"utc":true},{"year":2020,"month":10,"date":1,"utc":true},{"year":2020,"month":11,"date":15,"utc":true},{"year":2021,"month":1,"date":1,"utc":true},{"year":2021,"month":2,"date":15,"utc":true},{"year":2021,"month":4,"date":1,"utc":true},{"year":2021,"month":5,"date":16,"utc":true},{"year":2021,"month":7,"date":1,"utc":true}],
"labelExpr":"utcdate(datum.value) == 1 ? utcFormat(datum.value, '%b') : ''","tickColor":{"condition":{"test":"utcdate(datum.value) != 1","value":"transparent"},"value":"#555555"},"gridColor":{"condition":{"test":"utcdate(datum.value) != 1","value":"#f4f4f4"},"value":"#e4e4e4"}}},
"x2":{"field":"d2"},
"y":{"field":"v","type":"quantitative","scale":{"domain":[-42,882],"nice":false,"zero":false},
"axis":{"title":null,"labelOverlap":false,"tickCount":20,"values":[0,100,200,300,400,500,600,700,800],"labelColor":{"condition":{"test":"datum.value % 200 != 0","value":"transparent"},"value":"#4d4d4d"},"tickColor":{"condition":{"test":"datum.value % 200 != 0","value":"transparent"},"value":"#555555"},"gridColor":{"condition":{"test":"datum.value % 200 != 0","value":"#f4f4f4"},"value":"#e4e4e4"}}},
"y2":{"field":"v2"},
"color":{"field":"t","type":"quantitative","scale":{"domain":[9.2,36.2],"scheme":"magma"},"legend":{"title":"Pond 1 (ᵒC)","values":[10,15,20,25,30,35],"legendX":463,"legendY":45}}}},
{"data":{"values":[{"h":170}]},"mark":{"type":"rule","color":"#000000","strokeWidth":1},"encoding":{"y":{"field":"h","type":"quantitative"}}}]}
],"spacing":38,"bounds":"flush","resolve":{"scale":{"color":"shared"}}},
{"hconcat":[
{"width":127,"height":150,"layer":[
{"transform":[{"filter":"datum.pond==2 && datum.yr==2018 && datum.d2 != null"}],"mark":{"type":"rule","strokeWidth":1.5},
"encoding":{
"x":{"field":"d","type":"temporal","scale":{"type":"utc","domain":[{"year":2018,"month":6,"date":13,"utc":true},{"year":2019,"month":7,"date":18,"utc":true}]},
"axis":{"title":"2018 – 2019","labelOverlap":false,"tickCount":20,"values":[{"year":2018,"month":7,"date":1,"utc":true},{"year":2018,"month":8,"date":16,"utc":true},{"year":2018,"month":10,"date":1,"utc":true},{"year":2018,"month":11,"date":15,"utc":true},{"year":2019,"month":1,"date":1,"utc":true},{"year":2019,"month":2,"date":15,"utc":true},{"year":2019,"month":4,"date":1,"utc":true},{"year":2019,"month":5,"date":16,"utc":true},{"year":2019,"month":7,"date":1,"utc":true}],
"labelExpr":"utcdate(datum.value) == 1 ? utcFormat(datum.value, '%b') : ''","tickColor":{"condition":{"test":"utcdate(datum.value) != 1","value":"transparent"},"value":"#555555"},"gridColor":{"condition":{"test":"utcdate(datum.value) != 1","value":"#f4f4f4"},"value":"#e4e4e4"}}},
"x2":{"field":"d2"},
"y":{"field":"v","type":"quantitative","scale":{"domain":[-42,882],"nice":false,"zero":false},
"axis":{"title":"Water depth (mm)","labelOverlap":false,"tickCount":20,"values":[0,100,200,300,400,500,600,700,800],"labelColor":{"condition":{"test":"datum.value % 200 != 0","value":"transparent"},"value":"#4d4d4d"},"tickColor":{"condition":{"test":"datum.value % 200 != 0","value":"transparent"},"value":"#555555"},"gridColor":{"condition":{"test":"datum.value % 200 != 0","value":"#f4f4f4"},"value":"#e4e4e4"}}},
"y2":{"field":"v2"},
"color":{"field":"t","type":"quantitative","scale":{"domain":[9.2,36.2],"range":["#0b0820","#231656","#572583","#9d3583","#e0586a","#f3a76e","#e7e590"]},"legend":{"title":"Pond 2 (ᵒC)","values":[10,15,20,25,30,35],"legendX":463,"legendY":48}}}},
{"data":{"values":[{"h":200}]},"mark":{"type":"rule","color":"#000000","strokeWidth":1},"encoding":{"y":{"field":"h","type":"quantitative"}}}]},
{"width":127,"height":150,"layer":[
{"transform":[{"filter":"datum.pond==2 && datum.yr==2019 && datum.d2 != null"}],"mark":{"type":"rule","strokeWidth":1.5},
"encoding":{
"x":{"field":"d","type":"temporal","scale":{"type":"utc","domain":[{"year":2019,"month":6,"date":13,"utc":true},{"year":2020,"month":7,"date":18,"utc":true}]},
"axis":{"title":"2019 – 2020","labelOverlap":false,"tickCount":20,"values":[{"year":2019,"month":7,"date":1,"utc":true},{"year":2019,"month":8,"date":16,"utc":true},{"year":2019,"month":10,"date":1,"utc":true},{"year":2019,"month":11,"date":15,"utc":true},{"year":2020,"month":1,"date":1,"utc":true},{"year":2020,"month":2,"date":15,"utc":true},{"year":2020,"month":4,"date":1,"utc":true},{"year":2020,"month":5,"date":16,"utc":true},{"year":2020,"month":7,"date":1,"utc":true}],
"labelExpr":"utcdate(datum.value) == 1 ? utcFormat(datum.value, '%b') : ''","tickColor":{"condition":{"test":"utcdate(datum.value) != 1","value":"transparent"},"value":"#555555"},"gridColor":{"condition":{"test":"utcdate(datum.value) != 1","value":"#f4f4f4"},"value":"#e4e4e4"}}},
"x2":{"field":"d2"},
"y":{"field":"v","type":"quantitative","scale":{"domain":[-42,882],"nice":false,"zero":false},
"axis":{"title":null,"labelOverlap":false,"tickCount":20,"values":[0,100,200,300,400,500,600,700,800],"labelColor":{"condition":{"test":"datum.value % 200 != 0","value":"transparent"},"value":"#4d4d4d"},"tickColor":{"condition":{"test":"datum.value % 200 != 0","value":"transparent"},"value":"#555555"},"gridColor":{"condition":{"test":"datum.value % 200 != 0","value":"#f4f4f4"},"value":"#e4e4e4"}}},
"y2":{"field":"v2"},
"color":{"field":"t","type":"quantitative","scale":{"domain":[9.2,36.2],"range":["#0b0820","#231656","#572583","#9d3583","#e0586a","#f3a76e","#e7e590"]},"legend":{"title":"Pond 2 (ᵒC)","values":[10,15,20,25,30,35],"legendX":463,"legendY":48}}}},
{"data":{"values":[{"h":200}]},"mark":{"type":"rule","color":"#000000","strokeWidth":1},"encoding":{"y":{"field":"h","type":"quantitative"}}}]},
{"width":127,"height":150,"layer":[
{"transform":[{"filter":"datum.pond==2 && datum.yr==2020 && datum.d2 != null"}],"mark":{"type":"rule","strokeWidth":1.5},
"encoding":{
"x":{"field":"d","type":"temporal","scale":{"type":"utc","domain":[{"year":2020,"month":6,"date":13,"utc":true},{"year":2021,"month":7,"date":18,"utc":true}]},
"axis":{"title":"2020 – 2021","labelOverlap":false,"tickCount":20,"values":[{"year":2020,"month":7,"date":1,"utc":true},{"year":2020,"month":8,"date":16,"utc":true},{"year":2020,"month":10,"date":1,"utc":true},{"year":2020,"month":11,"date":15,"utc":true},{"year":2021,"month":1,"date":1,"utc":true},{"year":2021,"month":2,"date":15,"utc":true},{"year":2021,"month":4,"date":1,"utc":true},{"year":2021,"month":5,"date":16,"utc":true},{"year":2021,"month":7,"date":1,"utc":true}],
"labelExpr":"utcdate(datum.value) == 1 ? utcFormat(datum.value, '%b') : ''","tickColor":{"condition":{"test":"utcdate(datum.value) != 1","value":"transparent"},"value":"#555555"},"gridColor":{"condition":{"test":"utcdate(datum.value) != 1","value":"#f4f4f4"},"value":"#e4e4e4"}}},
"x2":{"field":"d2"},
"y":{"field":"v","type":"quantitative","scale":{"domain":[-42,882],"nice":false,"zero":false},
"axis":{"title":null,"labelOverlap":false,"tickCount":20,"values":[0,100,200,300,400,500,600,700,800],"labelColor":{"condition":{"test":"datum.value % 200 != 0","value":"transparent"},"value":"#4d4d4d"},"tickColor":{"condition":{"test":"datum.value % 200 != 0","value":"transparent"},"value":"#555555"},"gridColor":{"condition":{"test":"datum.value % 200 != 0","value":"#f4f4f4"},"value":"#e4e4e4"}}},
"y2":{"field":"v2"},
"color":{"field":"t","type":"quantitative","scale":{"domain":[9.2,36.2],"range":["#0b0820","#231656","#572583","#9d3583","#e0586a","#f3a76e","#e7e590"]},"legend":{"title":"Pond 2 (ᵒC)","values":[10,15,20,25,30,35],"legendX":463,"legendY":48}}}},
{"data":{"values":[{"h":200}]},"mark":{"type":"rule","color":"#000000","strokeWidth":1},"encoding":{"y":{"field":"h","type":"quantitative"}}}]}
],"spacing":38,"bounds":"flush","resolve":{"scale":{"color":"shared"}}}
]
}
